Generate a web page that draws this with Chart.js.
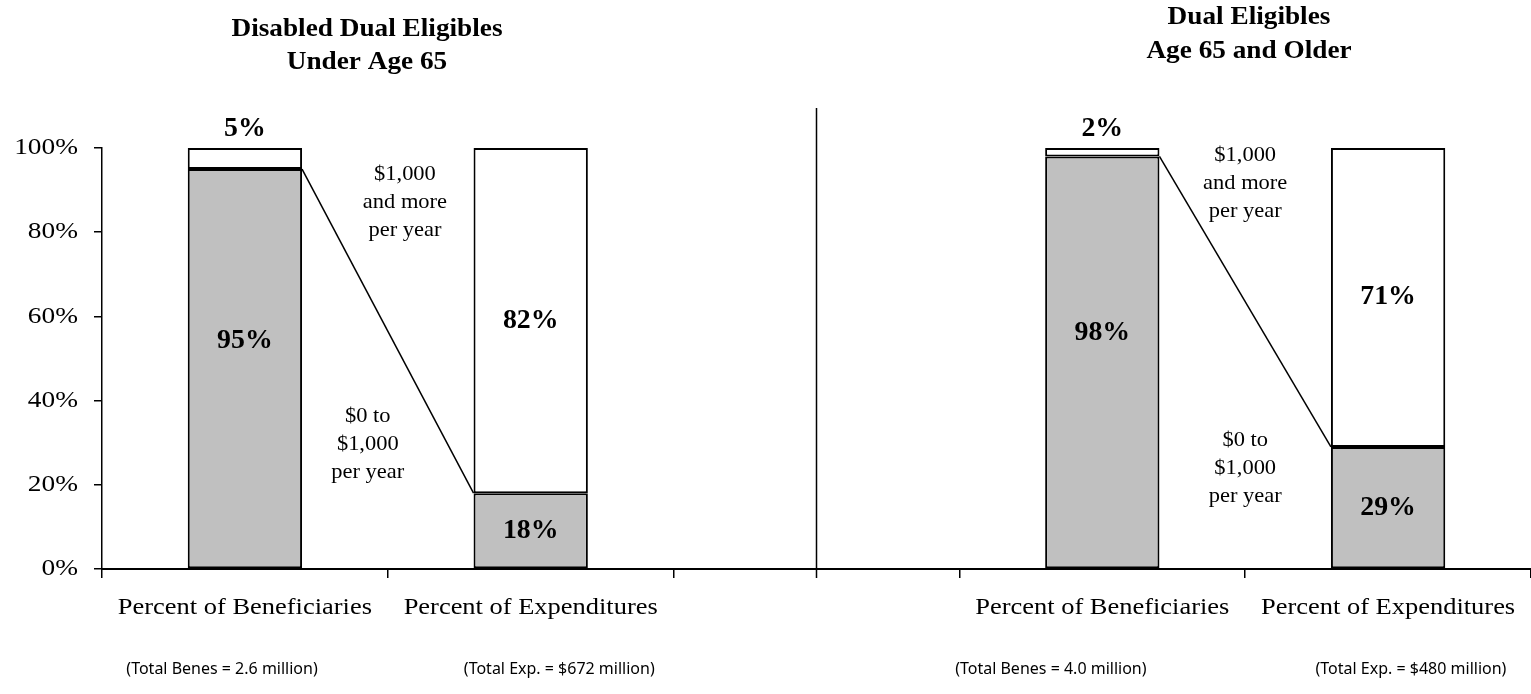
<!DOCTYPE html>
<html>
<head>
  <title>Dual Eligibles Expenditures</title>
  <script src="https://cdn.jsdelivr.net/npm/chart.js"></script>
  <style>
    body { margin: 0; background: #fff; }
    #wrap { width: 1531px; height: 694px; }
  </style>
</head>
<body>
  <div id="wrap"><canvas id="chart" width="1531" height="694"></canvas></div>

  <script>
    // categories (the middle one is the empty gap between the two groups)
    const categories = ['Percent of Beneficiaries', 'Percent of Expenditures', '', 'Percent of Beneficiaries', 'Percent of Expenditures'];
    const totals = ['(Total Benes = 2.6 million)', '(Total Exp. = $672 million)', '', '(Total Benes = 4.0 million)', '(Total Exp. = $480 million)'];

    // series values (percent)
    const lowSpend = [95, 18, null, 98, 29];   // $0 to $1,000 per year
    const highSpend = [5, 82, null, 2, 71];    // $1,000 and more per year

    const yTicks = [0, 20, 40, 60, 80, 100];

    const serif = '"Liberation Serif", "DejaVu Serif", serif';

    // the original text is set a little wide, so each call gets a horizontal stretch
    function drawText(ctx, text, x, y, font, align, sx) {
      ctx.save();
      ctx.translate(x, y);
      ctx.scale(sx || 1, 1);
      ctx.font = font;
      ctx.textAlign = align || 'center';
      ctx.textBaseline = 'middle';
      ctx.fillStyle = '#000';
      ctx.fillText(text, 0, 0);
      ctx.restore();
    }

    const extras = {
      id: 'extras',
      afterDatasetsDraw(chart) {
        const ctx = chart.ctx;
        const x = chart.scales.x;
        const y = chart.scales.y;
        const low = chart.getDatasetMeta(0).data;
        const bold = 'bold 27px ' + serif;
        const reg = '21px ' + serif;
        const axisFont = '23px ' + serif;

        ctx.save();

        // connector lines between the two bars of each group
        ctx.strokeStyle = '#000';
        ctx.lineWidth = 1.5;
        [[0, 1], [3, 4]].forEach(function (p) {
          const a = low[p[0]], b = low[p[1]];
          ctx.beginPath();
          ctx.moveTo(a.x + a.width / 2, a.y);
          ctx.lineTo(b.x - b.width / 2, b.y);
          ctx.stroke();
        });

        // divider between the two groups
        ctx.beginPath();
        ctx.moveTo(x.getPixelForValue(2), 108);
        ctx.lineTo(x.getPixelForValue(2), y.bottom + 9);
        ctx.stroke();

        // axis labels
        yTicks.forEach(function (v) {
          drawText(ctx, v + '%', 78, y.getPixelForValue(v), '24px ' + serif, 'right', 1.14);
        });
        categories.forEach(function (c, i) {
          if (c) drawText(ctx, c, x.getPixelForValue(i), 608, axisFont, 'center', 1.15);
        });

        // value labels
        const lowLabelAt = [54.2, 9, null, 56, 14.5];
        lowSpend.forEach(function (v, i) {
          if (v === null) return;
          drawText(ctx, v + '%', x.getPixelForValue(i), y.getPixelForValue(lowLabelAt[i]), bold, 'center', 1.03);
        });
        highSpend.forEach(function (v, i) {
          if (v === null) return;
          let at = lowSpend[i] + v / 2;
          if (v < 10) at = 104.5;
          drawText(ctx, v + '%', x.getPixelForValue(i), y.getPixelForValue(at), bold, 'center', 1.03);
        });

        // range annotations
        function block(lines, idx, val) {
          const cx = x.getPixelForValue(idx);
          const cy = y.getPixelForValue(val);
          lines.forEach(function (t, k) { drawText(ctx, t, cx, cy + k * 28, reg, 'center', 1.07); });
        }
        block(['$1,000', 'and more', 'per year'], 0.56, 93.6);
        block(['$0 to', '$1,000', 'per year'], 0.43, 36.3);
        block(['$1,000', 'and more', 'per year'], 3.5, 98.3);
        block(['$0 to', '$1,000', 'per year'], 3.5, 30.6);

        // totals below the axis
        const totalAt = [-0.08, 1.1, null, 2.82, 4.08];
        totals.forEach(function (t, i) {
          if (!t) return;
          drawText(ctx, t, x.getPixelForValue(totalAt[i]), 669, '16px "Noto Sans", sans-serif');
        });

        // group titles
        const tfont = 'bold 25px ' + serif;
        drawText(ctx, 'Disabled Dual Eligibles', 367, 30, tfont, 'center', 1.09);
        drawText(ctx, 'Under Age 65', 367, 63, tfont, 'center', 1.09);
        drawText(ctx, 'Dual Eligibles', 1249, 18, tfont, 'center', 1.09);
        drawText(ctx, 'Age 65 and Older', 1249, 52, tfont, 'center', 1.09);

        ctx.restore();
      }
    };

    new Chart(document.getElementById('chart'), {
      type: 'bar',
      data: {
        labels: categories,
        datasets: [
          {
            label: '$0 to $1,000 per year',
            data: lowSpend,
            backgroundColor: '#c0c0c0',
            borderColor: '#000',
            borderWidth: 2,
            borderSkipped: false,
          },
          {
            label: '$1,000 and more per year',
            data: highSpend,
            backgroundColor: '#fff',
            borderColor: '#000',
            borderWidth: 2,
            borderSkipped: false,
          },
        ],
      },
      options: {
        responsive: false,
        animation: false,
        layout: { padding: { top: 148, right: 0, left: 0, bottom: 0 } },
        categoryPercentage: 1,
        barPercentage: 0.4,
        plugins: {
          legend: { display: false },
          tooltip: { enabled: false },
        },
        scales: {
          x: {
            stacked: true,
            offset: true,
            grid: { offset: true, drawOnChartArea: false, tickLength: 9, color: '#000', lineWidth: 1.5 },
            border: { color: '#000', width: 2 },
            // labels are drawn by the plugin
            ticks: { color: 'rgba(0,0,0,0)', font: { family: serif, size: 21 }, padding: 18, maxRotation: 0, autoSkip: false },
            afterFit: function (s) { s.height = 125; },
          },
          y: {
            stacked: true,
            min: 0,
            max: 100,
            afterBuildTicks: function (s) { s.ticks = yTicks.map(v => ({ value: v })); },
            grid: { drawOnChartArea: false, tickLength: 8, color: '#000', lineWidth: 1.5 },
            border: { color: '#000', width: 1.5 },
            ticks: { color: 'rgba(0,0,0,0)', font: { family: serif, size: 21 }, padding: 14, callback: v => v + '%' },
            afterFit: function (s) { s.width = 102; },
          },
        },
      },
      plugins: [extras],
    });
  </script>
</body>
</html>
